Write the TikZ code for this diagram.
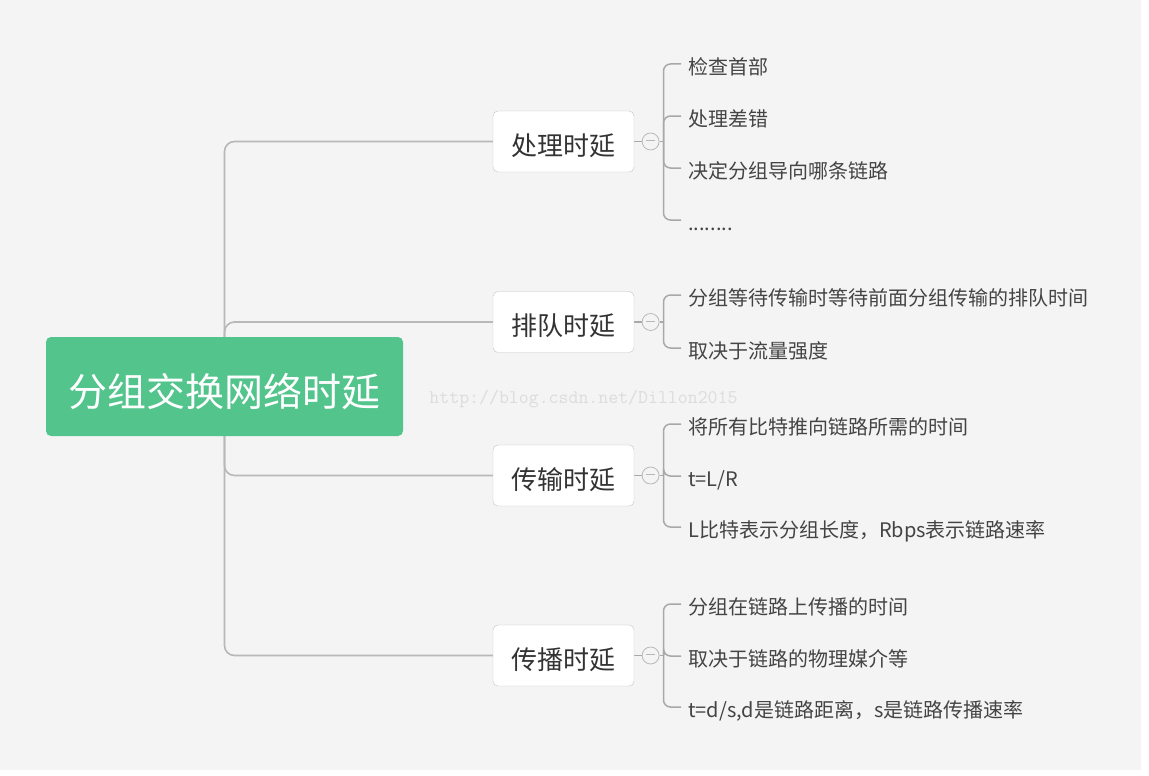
\documentclass[tikz,border=0pt]{standalone}
\usepackage{fontspec}
\usepackage{xcolor}
\newfontfamily\cjk{Noto Sans CJK SC}
\usetikzlibrary{positioning,backgrounds}

\definecolor{canvas}{HTML}{F4F4F4}
\definecolor{rootgreen}{HTML}{52C48C}
\definecolor{boxedge}{HTML}{C4C4C4}
\definecolor{trunkgray}{HTML}{B8B8B8}
\definecolor{twiggray}{HTML}{A8A8A8}
\definecolor{foldgray}{HTML}{B8B8B8}
\definecolor{topictext}{HTML}{333333}
\definecolor{leaftext}{HTML}{444444}
\definecolor{stampgray}{HTML}{DCDCDC}

\begin{document}
\begin{tikzpicture}[
    x=1pt, y=-1pt,
    % --- node styles -------------------------------------------------
    rootbox/.style={
        fill=rootgreen, rounded corners=5pt, text=white,
        font=\cjk\fontsize{39}{44}\selectfont,
        text height=42pt, text depth=2.4pt,
        minimum width=357pt, minimum height=99pt, inner sep=0pt
    },
    topic/.style={
        draw=boxedge, fill=white, rounded corners=5pt, text=topictext,
        font=\cjk\fontsize{26}{30}\selectfont,
        text height=30pt, text depth=2.2pt,
        minimum width=141pt, minimum height=61pt, inner sep=0pt
    },
    fold/.style={
        circle, draw=foldgray, fill=canvas, line width=0.8pt,
        minimum size=17pt, inner sep=0pt
    },
    leaf/.style={
        anchor=west, inner xsep=7pt, inner ysep=0pt,
        text height=24pt, text depth=3pt, text=leaftext,
        font=\cjk\fontsize{20}{24}\selectfont
    },
    stamp/.style={
        text=stampgray, font=\ttfamily\fontsize{19.3}{22}\selectfont
    },
    trunk/.style={draw=trunkgray, line width=1.6pt, rounded corners=10pt},
    twig/.style={draw=twiggray, line width=1.5pt, rounded corners=7pt}
]
\useasboundingbox (0,0) rectangle (1149,776);

% --- centre topic --------------------------------------------------
\node[rootbox] (root) at (224.5,386.5) {分组交换网络时延};

% --- four delay kinds ----------------------------------------------
\node[topic] (proc)  at (563.5,141.5) {处理时延};
\node[topic] (queue) at (563.5,322)   {排队时延};
\node[topic] (trans) at (563.5,475.5) {传输时延};
\node[topic] (prop)  at (563.5,655.5) {传播时延};

% collapse buttons
\node[fold, right=7.5pt of proc]  (fproc)  {\color{foldgray}\rule[2pt]{9pt}{0.8pt}};
\node[fold, right=7.5pt of queue] (fqueue) {\color{foldgray}\rule[2pt]{9pt}{0.8pt}};
\node[fold, right=7.5pt of trans] (ftrans) {\color{foldgray}\rule[2pt]{9pt}{0.8pt}};
\node[fold, right=7.5pt of prop]  (fprop)  {\color{foldgray}\rule[2pt]{9pt}{0.8pt}};

\coordinate[right=4pt of fproc.east]  (bproc);
\coordinate[right=4pt of fqueue.east] (bqueue);
\coordinate[right=4pt of ftrans.east] (btrans);
\coordinate[right=4pt of fprop.east]  (bprop);

% --- leaves ---------------------------------------------------------
\node[leaf] (p1) at (681,64)  {检查首部};
\node[leaf] (p2) at (681,116) {处理差错};
\node[leaf] (p3) at (681,168) {决定分组导向哪条链路};
\node[leaf] (p4) at (681,220) {........};

\node[leaf] (q1) at (681,295) {分组等待传输时等待前面分组传输的排队时间};
\node[leaf] (q2) at (681,348) {取决于流量强度};

\node[leaf] (t1) at (681,424) {将所有比特推向链路所需的时间};
\node[leaf] (t2) at (681,476) {t=L/R};
\node[leaf] (t3) at (681,527) {L比特表示分组长度，Rbps表示链路速率};

\node[leaf] (s1) at (681,604) {分组在链路上传播的时间};
\node[leaf] (s2) at (681,656) {取决于链路的物理媒介等};
\node[leaf] (s3) at (681,707) {t=d/s,d是链路距离，s是链路传播速率};

% watermark
\node[stamp] (wm) at (583.5,399) {http://blog.csdn.net/Dillon2015};

% --- connectors behind the boxes -----------------------------------
\begin{scope}[on background layer]
    \fill[white]  (0,0) rectangle (1149,776);
    \fill[canvas] (0,0) rectangle (1141,770);

    \draw[trunk] (root.center) |- (proc.west);
    \draw[trunk] (root.center) |- (queue.west);
    \draw[trunk] (root.center) |- (trans.west);
    \draw[trunk] (root.center) |- (prop.west);

    \draw[twig] (proc.east)  -- (fproc.west);
    \draw[twig] (queue.east) -- (fqueue.west);
    \draw[twig] (trans.east) -- (ftrans.west);
    \draw[twig] (prop.east)  -- (fprop.west);

    \draw[twig] (fproc.east)  -- (bproc);
    \draw[twig] (fqueue.east) -- (bqueue);
    \draw[twig] (ftrans.east) -- (btrans);
    \draw[twig] (fprop.east)  -- (bprop);

    \draw[twig] (bproc) |- (p1.west);
    \draw[twig] (bproc) |- (p2.west);
    \draw[twig] (bproc) |- (p3.west);
    \draw[twig] (bproc) |- (p4.west);

    \draw[twig] (bqueue) |- (q1.west);
    \draw[twig] (bqueue) |- (q2.west);

    \draw[twig] (btrans) |- (t1.west);
    \draw[twig] (btrans) |- (t2.west);
    \draw[twig] (btrans) |- (t3.west);

    \draw[twig] (bprop) |- (s1.west);
    \draw[twig] (bprop) |- (s2.west);
    \draw[twig] (bprop) |- (s3.west);
\end{scope}

\end{tikzpicture}
\end{document}
